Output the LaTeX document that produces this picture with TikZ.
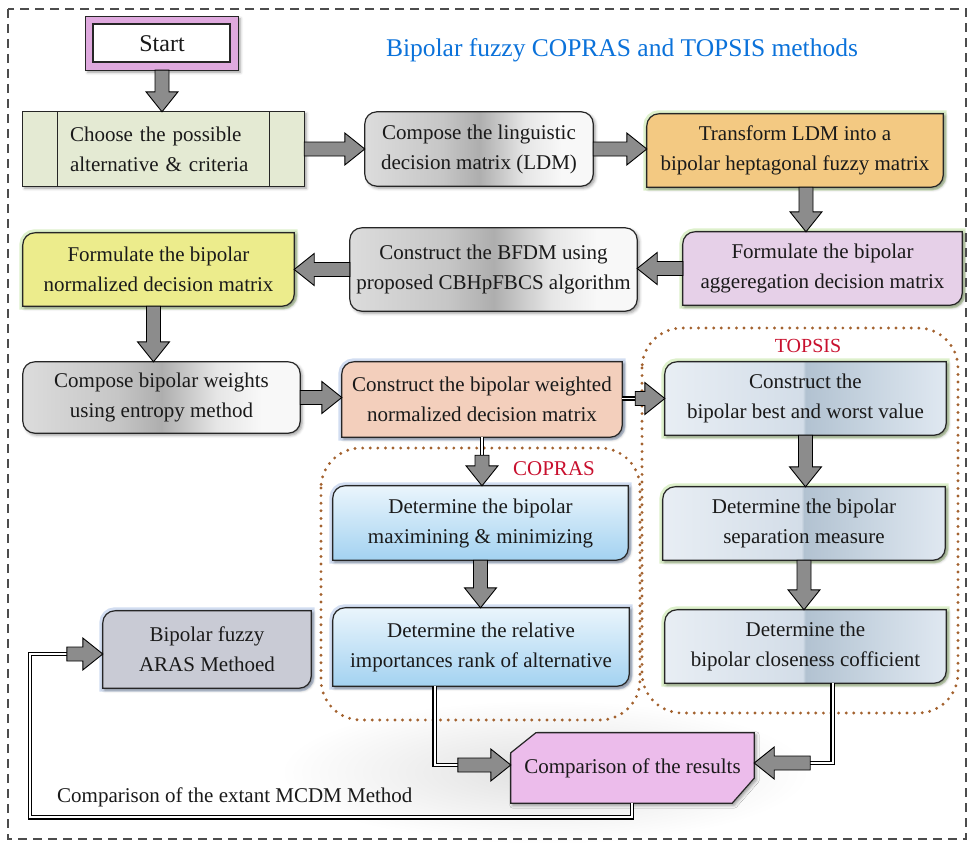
\documentclass[tikz,border=0pt]{standalone}
\usepackage{fontspec}
\setmainfont{Liberation Serif}
\usetikzlibrary{calc,backgrounds,shadows,shadows.blur}

\definecolor{lineC}{HTML}{262626}
\definecolor{txtC}{HTML}{1A1A1A}
\definecolor{pinkS}{HTML}{DFA9DE}
\definecolor{chooseC}{HTML}{E4EAD3}
\definecolor{transC}{HTML}{F3C982}
\definecolor{aggC}{HTML}{E6D0E8}
\definecolor{normC}{HTML}{ECEC8C}
\definecolor{wndC}{HTML}{F3CFBC}
\definecolor{arasC}{HTML}{C9CBD5}
\definecolor{cmpC}{HTML}{ECBCEB}
\definecolor{arrowC}{HTML}{8C8C8C}
\definecolor{titleC}{HTML}{0B72DA}
\definecolor{redC}{HTML}{C8102E}
\definecolor{dotC}{HTML}{A3622F}
\definecolor{glowgreen}{HTML}{9ED46A}
\definecolor{glowblue}{HTML}{7D9FD6}
\definecolor{gg1}{HTML}{DCDCDC}
\definecolor{gg2}{HTML}{C6C6C6}
\definecolor{gg3}{HTML}{AEAEAE}
\definecolor{gg5}{HTML}{E6E6E6}
\definecolor{gg4}{HTML}{F8F8F8}
\definecolor{tp1}{HTML}{E8EEF4}
\definecolor{tp2}{HTML}{D3DDE8}
\definecolor{tp3}{HTML}{B2C2D1}
\definecolor{tp4}{HTML}{C8D5E1}
\definecolor{tp5}{HTML}{E0E8F1}
\definecolor{cpTop}{HTML}{EAF5FC}
\definecolor{cpBot}{HTML}{A3D2F1}

\pgfdeclarehorizontalshading{glossgray}{100bp}{color(0bp)=(gg1); color(25bp)=(gg1); color(42bp)=(gg2); color(50bp)=(gg3); color(60bp)=(gg5); color(68bp)=(gg4); color(100bp)=(gg4)}
\pgfdeclarehorizontalshading{glosstop}{100bp}{color(0bp)=(tp1); color(25bp)=(tp1); color(49.5bp)=(tp2); color(50bp)=(tp3); color(62bp)=(tp4); color(75bp)=(tp5); color(100bp)=(tp5)}

% round-diagonal box (top-left and bottom-right rounded)
\newcommand\rdbox[2]{%
 \path[#2] ($(#1.north west)+(0,12)$) .. controls ($(#1.north west)+(0,5.4)$) and ($(#1.north west)+(5.4,0)$) .. ($(#1.north west)+(12,0)$) -- (#1.north east) -- ($(#1.south east)+(0,-12)$) .. controls ($(#1.south east)+(0,-5.4)$) and ($(#1.south east)+(-5.4,0)$) .. ($(#1.south east)+(-12,0)$) -- (#1.south west) -- cycle;}

\tikzset{
 box/.style={inner sep=0pt, align=center, font=\fontsize{21}{30}\selectfont, text=txtC},
 edgeline/.style={draw=lineC, line width=1.2pt},
 shad/.style={blur shadow={shadow xshift=2pt, shadow yshift=-2pt, shadow blur radius=3pt, shadow opacity=40}},
 glowG/.style={preaction={draw=glowgreen, line width=7pt, opacity=0.35}},
 glowB/.style={preaction={draw=glowblue, line width=7pt, opacity=0.35}},
 dline/.style={draw=black, double=white, double distance=1.8pt, line width=1.5pt, line join=miter},
 dotreg/.style={draw=dotC, line width=3.2pt, line cap=round, dash pattern=on 0pt off 7.6pt},
 harrow/.style={fill=arrowC, draw=black, line width=0.9pt, line join=miter,
  to path={let \p1=(\tikztostart), \p2=(\tikztotarget) in
   (\x1,{\y1+7pt}) -- ({\x2-((\x2>\x1)*2-1)*20pt},{\y1+7pt}) -- ({\x2-((\x2>\x1)*2-1)*20pt},{\y1+16pt})
   -- (\x2,\y1) -- ({\x2-((\x2>\x1)*2-1)*20pt},{\y1-16pt}) -- ({\x2-((\x2>\x1)*2-1)*20pt},{\y1-7pt})
   -- (\x1,{\y1-7pt}) -- cycle}},
 varrow/.style={fill=arrowC, draw=black, line width=0.9pt, line join=miter,
  to path={let \p1=(\tikztostart), \p2=(\tikztotarget) in
   ({\x1+7pt},\y1) -- ({\x1+7pt},{\y2-((\y2>\y1)*2-1)*20pt}) -- ({\x1+16pt},{\y2-((\y2>\y1)*2-1)*20pt})
   -- (\x1,\y2) -- ({\x1-16pt},{\y2-((\y2>\y1)*2-1)*20pt}) -- ({\x1-7pt},{\y2-((\y2>\y1)*2-1)*20pt})
   -- ({\x1-7pt},\y1) -- cycle}},
}

\begin{document}
\begin{tikzpicture}[x=1pt,y=-1pt]
\useasboundingbox (0,0) rectangle (972,843);

% ---------- nodes ----------
\node[box, minimum width=152pt, minimum height=53pt] (start) at (162,43.5) {\fontsize{24}{28}\selectfont Start};
\node[box, text width=187pt, inner xsep=47pt, align=left, minimum height=74pt] (choose) at (163.5,149) {Choose the possible\\alternative \& criteria};
\node[box, minimum width=228pt, minimum height=74pt] (ldm) at (479,149) {Compose the linguistic\\decision matrix (LDM)};
\node[box, minimum width=296pt, minimum height=73pt] (trans) at (795,150.5) {Transform LDM into a\\bipolar heptagonal fuzzy matrix};
\node[box, minimum width=279pt, minimum height=73pt] (agg) at (822.5,268.5) {Formulate the bipolar\\aggeregation decision matrix};
\node[box, minimum width=287pt, minimum height=83pt] (bfdm) at (493.5,269.5) {Construct the BFDM using\\proposed CBHpFBCS algorithm};
\node[box, minimum width=271pt, minimum height=73pt] (norm) at (158.5,269.5) {Formulate the bipolar\\normalized decision matrix};
\node[box, minimum width=277pt, minimum height=71pt] (wts) at (161.5,397.5) {Compose bipolar weights\\using entropy method};
\node[box, minimum width=280pt, minimum height=75pt] (wnd) at (482,399.5) {Construct the bipolar weighted\\normalized decision matrix};
\node[box, minimum width=281pt, minimum height=73pt] (t1) at (805.5,398.5) {Construct the\\bipolar best and worst value};
\node[box, minimum width=282pt, minimum height=73pt] (t2) at (804,523.5) {Determine the bipolar\\separation measure};
\node[box, minimum width=281pt, minimum height=73pt] (t3) at (805.5,646.5) {Determine the\\bipolar closeness cofficient};
\node[box, minimum width=295pt, minimum height=74pt] (c1) at (480.5,523) {Determine the bipolar\\maximining \& minimizing};
\node[box, minimum width=296pt, minimum height=78pt] (c2) at (481,647) {Determine the relative\\importances rank of alternative};
\node[box, minimum width=208pt, minimum height=77pt] (aras) at (207,649.5) {Bipolar fuzzy\\ARAS Methoed};
\node[box, minimum width=243pt, minimum height=70pt] (cmp) at (632.5,768) {Comparison of the results};

\node[font=\fontsize{25.5}{30}\selectfont, text=titleC] (title) at (622,50) {Bipolar fuzzy COPRAS and TOPSIS methods};
\node[font=\fontsize{20}{24}\selectfont, text=redC] (tlab) at (808,346) {TOPSIS};
\node[font=\fontsize{21}{24}\selectfont, text=redC] (clab) at (554,469) {COPRAS};
\node[font=\fontsize{21}{24}\selectfont, text=txtC, anchor=west, inner sep=0pt] (ext) at (57,797) {Comparison of the extant MCDM Method};

% ---------- background shapes ----------
\begin{scope}[on background layer]
 \shade[inner color=black!12, outer color=white] (545,772) ellipse [x radius=265, y radius=72];
 \draw[dotreg, rounded corners=40pt] (321,448) rectangle (640,720);
 \draw[dotreg, rounded corners=40pt] (642,328) rectangle (958,713);

 \path[edgeline, fill=pinkS, shad] (start.north west) rectangle (start.south east);
 \path[draw=lineC, line width=1.6pt, fill=white] ($(start.north west)+(7,7)$) rectangle ($(start.south east)+(-8,-8)$);

 \path[edgeline, fill=chooseC, shad] (choose.north west) rectangle (choose.south east);
 \draw[edgeline] ($(choose.north west)+(35,0)$) -- ($(choose.south west)+(35,0)$);
 \draw[edgeline] ($(choose.north east)+(-35,0)$) -- ($(choose.south east)+(-35,0)$);

 \path[edgeline, shade, shading=glossgray, shad, rounded corners=12pt] (ldm.north west) rectangle (ldm.south east);
 \path[edgeline, shade, shading=glossgray, shad, rounded corners=12pt] (bfdm.north west) rectangle (bfdm.south east);
 \path[edgeline, shade, shading=glossgray, shad, rounded corners=12pt] (wts.north west) rectangle (wts.south east);

 \rdbox{trans}{edgeline, fill=transC, glowG, shad}
 \rdbox{agg}{edgeline, fill=aggC, glowG, shad}
 \rdbox{norm}{edgeline, fill=normC, glowG, shad}
 \rdbox{wnd}{edgeline, fill=wndC, glowB, shad}
 \rdbox{t1}{edgeline, shade, shading=glosstop, glowG, shad}
 \rdbox{t2}{edgeline, shade, shading=glosstop, glowG, shad}
 \rdbox{t3}{edgeline, shade, shading=glosstop, glowG, shad}
 \rdbox{c1}{edgeline, top color=cpTop, bottom color=cpBot, glowB, shad}
 \rdbox{c2}{edgeline, top color=cpTop, bottom color=cpBot, glowB, shad}
 \rdbox{aras}{edgeline, fill=arasC, glowB, shad}

 \path[edgeline, fill=cmpC, shad] ($(cmp.north west)+(0,20)$) -- ($(cmp.north west)+(25,0)$) -- (cmp.north east)
   -- ($(cmp.south east)+(0,-25)$) -- ($(cmp.south east)+(-22,0)$) -- (cmp.south west) -- cycle;
\end{scope}

% ---------- outer frame ----------
\draw[draw=black!70, line width=1.1pt, dash pattern=on 9pt off 6pt] (8,9) rectangle (966,839);

% ---------- connectors ----------
\path[varrow] (start.south) to (start.south |- choose.north);
\path[harrow] (choose.east) to (ldm.west);
\path[harrow] (ldm.east) to (trans.west |- ldm.east);
\coordinate (a1) at ($(trans.south)+(11,0)$);
\path[varrow] (a1) to (a1 |- agg.north);
\path[harrow] (agg.west) to (bfdm.east |- agg.west);
\path[harrow] (bfdm.west) to (norm.east |- bfdm.west);
\coordinate (a2) at ($(norm.south)+(-5,0)$);
\path[varrow] (a2) to (a2 |- wts.north);
\path[harrow] (wts.east) to (wnd.west |- wts.east);

\coordinate (d1) at ($(wnd.east)+(13,-1)$);
\draw[dline] (wnd.east |- d1) -- (d1);
\path[harrow] (d1) to (t1.west |- d1);

\coordinate (d2) at ($(wnd.south)+(0,18)$);
\draw[dline] (wnd.south) -- (d2);
\path[varrow] (d2) to (d2 |- c1.north);
\path[varrow] (c1.south) to (c2.north -| c1.south);
\path[varrow] (t1.south) to (t2.north -| t1.south);
\path[varrow] (t2.south) to (t3.north -| t2.south);

\coordinate (e1) at ($(c2.south west)+(102,0)$);
\coordinate (e2) at ($(cmp.west)+(-53,-3)$);
\draw[dline] (e1) |- (e2);
\path[harrow] (e2) to (cmp.west |- e2);

\coordinate (f1) at ($(t3.south west)+(168,0)$);
\coordinate (f2) at ($(cmp.east)+(56,-5)$);
\draw[dline] (f1) |- (f2);
\path[harrow] (f2) to (cmp.east |- f2);

\coordinate (g1) at ($(cmp.south)+(-0.5,14)$);
\coordinate (g2) at ($(ext.west |- g1)+(-27,0)$);
\coordinate (g3) at ($(aras.west)+(-36,4.5)$);
\draw[dline] (cmp.south -| g1) -- (g1) -- (g2) |- (g3);
\path[harrow] (g3) to (aras.west |- g3);
\end{tikzpicture}
\end{document}
